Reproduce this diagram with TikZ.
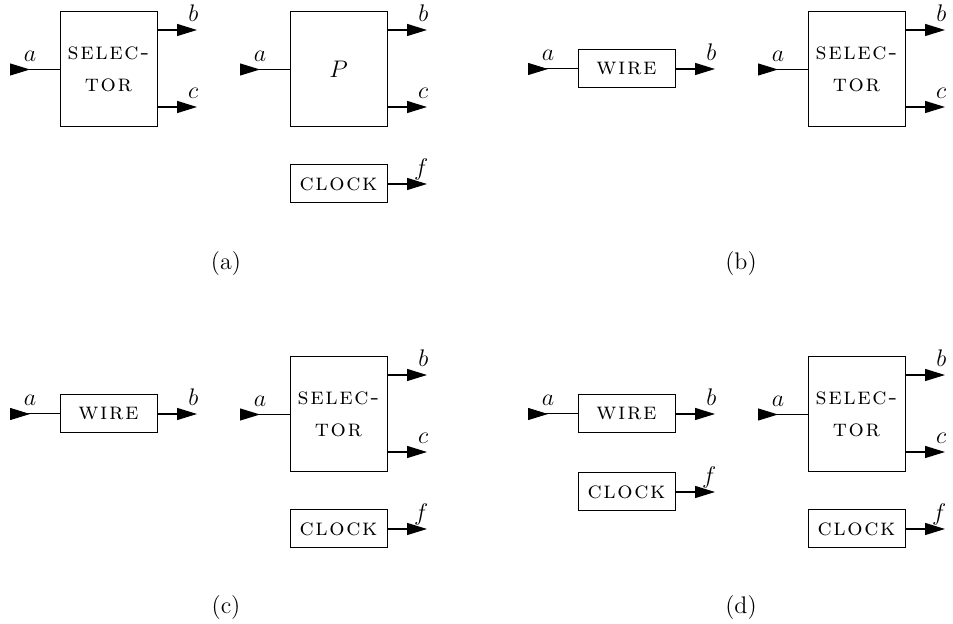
\documentclass[12pt,tikz,border=0pt]{standalone}
\usepackage{fontspec}
\usetikzlibrary{arrows.meta}

\newfontfamily\spacedsc{lmromancaps10-regular.otf}[LetterSpace=7]

\tikzset{
  box/.style={draw, line width=0.5pt, inner sep=0pt, minimum width=48.5pt, align=center, font=\spacedsc},
  bigbox/.style={box, minimum height=57.5pt},
  smallbox/.style={box, minimum height=19pt},
  inwire/.style={line width=0.5pt, {Triangle[reversed,length=10pt,width=6pt]}-},
  outwire/.style={line width=0.7pt, -{Triangle[length=10pt,width=6pt]}},
  inlbl/.style={inner sep=0pt, anchor=base, xshift=10pt, yshift=4pt},
  outlbl/.style={inner sep=0pt, anchor=base east, xshift=1pt, yshift=4pt},
}

\begin{document}
\begin{tikzpicture}[x=0.5pt,y=-0.5pt]
  \useasboundingbox (0,0) rectangle (953,624);

  % Draw panel (a)
  \node[bigbox] (sela) at (108.5,69.5) {selec-\\[1.5pt]tor};
  \coordinate (ina) at (10,69.5);
  \coordinate (outba) at (197,30);
  \coordinate (outca) at (197,107);
  \draw[inwire] (ina) node[inlbl] {$a$} -- (sela.west);
  \draw[outwire] (sela.east |- outba) -- (outba) node[outlbl] {$b$};
  \draw[outwire] (sela.east |- outca) -- (outca) node[outlbl] {$c$};

  \node[bigbox] (pa) at (338.5,69.5) {$P$};
  \coordinate (inpa) at (240,69.5);
  \coordinate (outbpa) at (427,30);
  \coordinate (outcpa) at (427,107);
  \draw[inwire] (inpa) node[inlbl] {$a$} -- (pa.west);
  \draw[outwire] (pa.east |- outbpa) -- (outbpa) node[outlbl] {$b$};
  \draw[outwire] (pa.east |- outcpa) -- (outcpa) node[outlbl] {$c$};

  \node[smallbox] (clocka) at (338.5,184) {clock};
  \coordinate (outfa) at (427,184);
  \draw[outwire] (clocka.east) -- (outfa) node[outlbl] {$f$};

  \node (capa) at (226,264) {(a)};

  % Draw panel (b)
  \node[smallbox] (wireb) at (626.5,69) {wire};
  \coordinate (inwb) at (528,69);
  \coordinate (outwb) at (715,69);
  \draw[inwire] (inwb) node[inlbl] {$a$} -- (wireb.west);
  \draw[outwire] (wireb.east) -- (outwb) node[outlbl] {$b$};

  \node[bigbox] (selb) at (856.5,69.5) {selec-\\[1.5pt]tor};
  \coordinate (insb) at (758,69.5);
  \coordinate (outbsb) at (945,30);
  \coordinate (outcsb) at (945,107);
  \draw[inwire] (insb) node[inlbl] {$a$} -- (selb.west);
  \draw[outwire] (selb.east |- outbsb) -- (outbsb) node[outlbl] {$b$};
  \draw[outwire] (selb.east |- outcsb) -- (outcsb) node[outlbl] {$c$};

  \node (capb) at (741,264) {(b)};

  % Draw panel (c)
  \node[smallbox] (wirec) at (108.5,414) {wire};
  \coordinate (inwc) at (10,414);
  \coordinate (outwc) at (197,414);
  \draw[inwire] (inwc) node[inlbl] {$a$} -- (wirec.west);
  \draw[outwire] (wirec.east) -- (outwc) node[outlbl] {$b$};

  \node[bigbox] (selc) at (338.5,414.5) {selec-\\[1.5pt]tor};
  \coordinate (insc) at (240,414.5);
  \coordinate (outbsc) at (427,375);
  \coordinate (outcsc) at (427,452);
  \draw[inwire] (insc) node[inlbl] {$a$} -- (selc.west);
  \draw[outwire] (selc.east |- outbsc) -- (outbsc) node[outlbl] {$b$};
  \draw[outwire] (selc.east |- outcsc) -- (outcsc) node[outlbl] {$c$};

  \node[smallbox] (clockc) at (338.5,529) {clock};
  \coordinate (outfc) at (427,529);
  \draw[outwire] (clockc.east) -- (outfc) node[outlbl] {$f$};

  \node (capc) at (226,608) {(c)};

  % Draw panel (d)
  \node[smallbox] (wired) at (626.5,414) {wire};
  \coordinate (inwd) at (528,414);
  \coordinate (outwd) at (715,414);
  \draw[inwire] (inwd) node[inlbl] {$a$} -- (wired.west);
  \draw[outwire] (wired.east) -- (outwd) node[outlbl] {$b$};

  \node[smallbox] (clockd) at (626.5,492) {clock};
  \coordinate (outfd) at (715,492);
  \draw[outwire] (clockd.east) -- (outfd) node[outlbl] {$f$};

  \node[bigbox] (seld) at (856.5,414.5) {selec-\\[1.5pt]tor};
  \coordinate (insd) at (758,414.5);
  \coordinate (outbsd) at (945,375);
  \coordinate (outcsd) at (945,452);
  \draw[inwire] (insd) node[inlbl] {$a$} -- (seld.west);
  \draw[outwire] (seld.east |- outbsd) -- (outbsd) node[outlbl] {$b$};
  \draw[outwire] (seld.east |- outcsd) -- (outcsd) node[outlbl] {$c$};

  \node[smallbox] (clockdd) at (856.5,529) {clock};
  \coordinate (outfdd) at (945,529);
  \draw[outwire] (clockdd.east) -- (outfdd) node[outlbl] {$f$};

  \node (capd) at (741,608) {(d)};
\end{tikzpicture}
\end{document}
